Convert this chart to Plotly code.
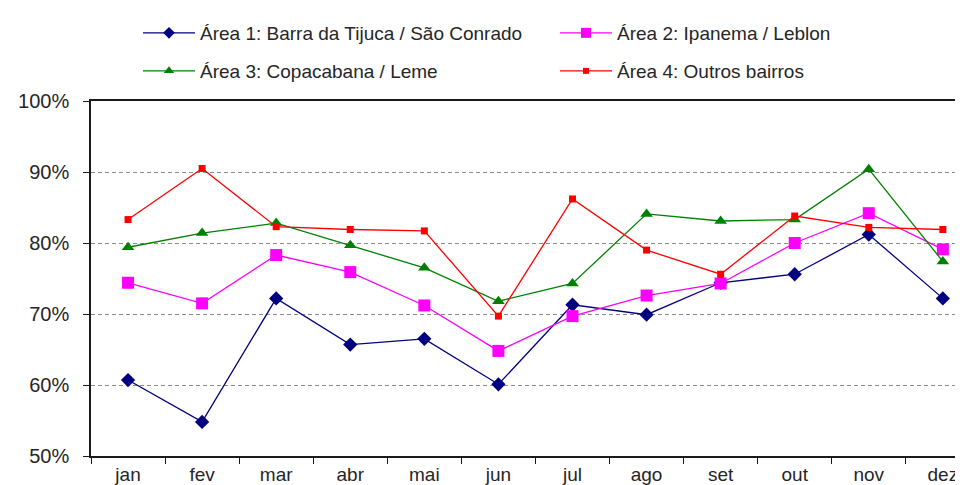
import plotly.graph_objects as go

months = ["jan", "fev", "mar", "abr", "mai", "jun", "jul", "ago", "set", "out", "nov", "dez"]

area1 = [60.7, 54.8, 72.2, 65.7, 66.5, 60.1, 71.3, 69.9, 74.4, 75.6, 81.2, 72.2]
area2 = [74.4, 71.5, 78.3, 75.9, 71.2, 64.8, 69.7, 72.6, 74.3, 80.0, 84.2, 79.1]
area3 = [79.4, 81.4, 82.8, 79.7, 76.5, 71.8, 74.3, 84.1, 83.1, 83.3, 90.4, 77.4]
area4 = [83.3, 90.5, 82.3, 81.9, 81.7, 69.7, 86.2, 79.0, 75.6, 83.8, 82.2, 81.9]

names = [
    "Área 1: Barra da Tijuca / São Conrado",
    "Área 2: Ipanema / Leblon",
    "Área 3: Copacabana / Leme",
    "Área 4: Outros bairros",
]

FONT = "Liberation Sans, Arial, sans-serif"
TXT = "#262626"

# (values, name, colour, symbol, marker size, legend marker size, legend id, legend x px, legend y px)
series = [
    (area1, names[0], "#000080", "diamond", 11, 9, "legend", 130, 25),
    (area2, names[1], "#FF00FF", "square", 12, 10, "legend2", 547, 25),
    (area3, names[2], "#008000", "triangle-up", 11, 9, "legend3", 130, 63),
    (area4, names[3], "#FF0000", "square", 7, 6, "legend4", 547, 63),
]

W, H = 963, 485

fig = go.Figure()
for vals, name, color, sym, size, lsize, leg, lx, ly in series:
    fig.add_trace(go.Scatter(
        x=months, y=vals, mode="lines+markers", name=name,
        line=dict(color=color, width=1.3),
        marker=dict(symbol=sym, size=size, color=color),
        showlegend=False,
    ))
for vals, name, color, sym, size, lsize, leg, lx, ly in series:
    fig.add_trace(go.Scatter(
        x=[None], y=[None], mode="lines+markers", name=name,
        line=dict(color=color, width=1.3),
        marker=dict(symbol=sym, size=lsize, color=color),
        legend=leg,
    ))

legends = {}
for vals, name, color, sym, size, lsize, leg, lx, ly in series:
    legends[leg] = dict(
        orientation="h", xref="container", yref="container",
        x=lx / W, y=1 - ly / H, xanchor="left", yanchor="middle",
        font=dict(family=FONT, size=19, color=TXT),
        bgcolor="rgba(0,0,0,0)", itemwidth=52, borderwidth=0,
    )

fig.update_layout(
    width=W, height=H,
    margin=dict(l=83, r=0, t=93, b=37),
    paper_bgcolor="white", plot_bgcolor="white",
    font=dict(family=FONT, size=19, color=TXT),
    **legends,
    xaxis=dict(
        type="category", showgrid=False,
        showline=True, linecolor="#1a1a1a", linewidth=1.6, mirror=True,
        ticks="outside", tickson="boundaries", ticklen=6, tickcolor="#1a1a1a", tickwidth=1.4,
        tickfont=dict(family=FONT, size=19, color=TXT),
        ticklabelstandoff=0,
        range=[-0.5, 11.38],
    ),
    yaxis=dict(
        range=[50, 100], dtick=10, ticksuffix="%",
        showgrid=True, gridcolor="#8c8c8c", griddash="4px,3px", gridwidth=1,
        showline=True, linecolor="#1a1a1a", linewidth=1.6,
        ticks="outside", ticklen=6, tickcolor="#1a1a1a", tickwidth=1.4,
        tickfont=dict(family=FONT, size=20, color=TXT),
        ticklabelstandoff=10,
        zeroline=False,
    ),
)

fig.write_html("out.html")
